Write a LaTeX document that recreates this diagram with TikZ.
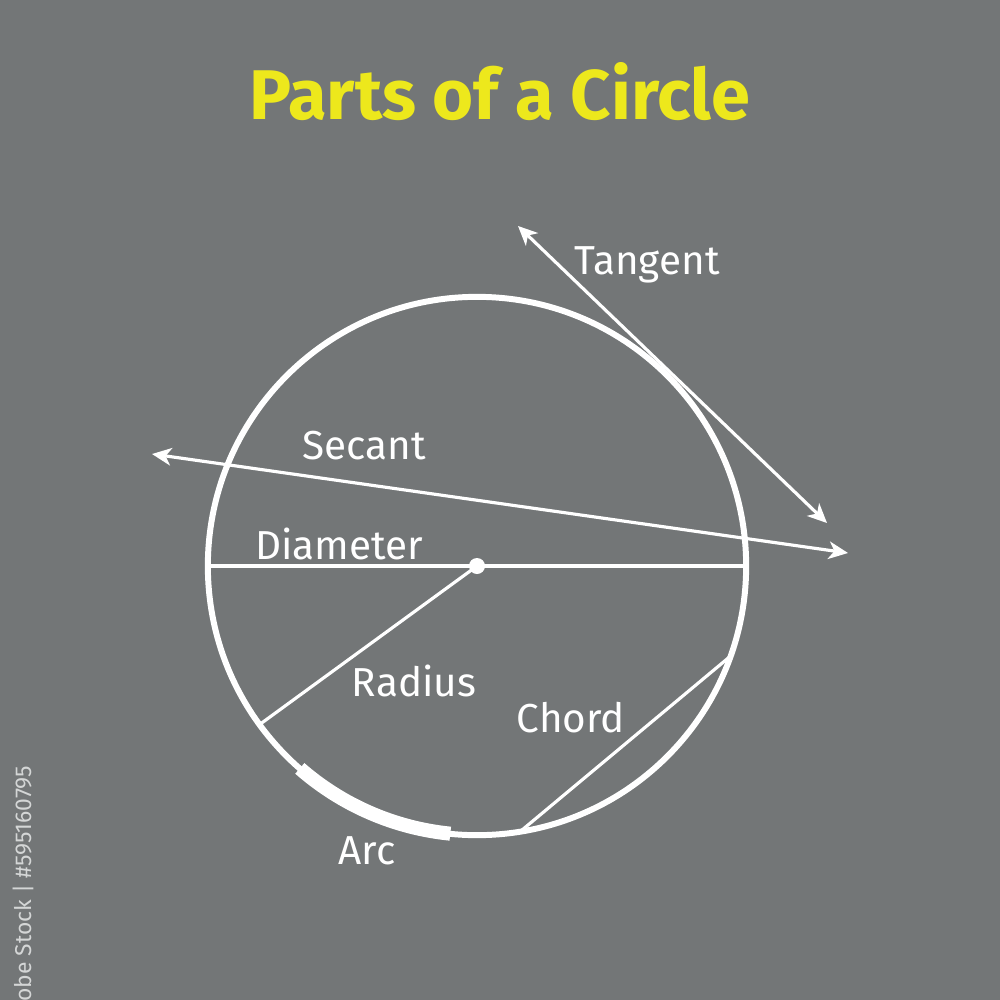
\documentclass[tikz,border=0pt]{standalone}
\usepackage{fontspec}
\setmainfont{Fira Sans}
\usetikzlibrary{arrows.meta,calc}
\definecolor{bg}{HTML}{737677}
\definecolor{ttl}{HTML}{EDE81C}
\definecolor{wm}{HTML}{D4D6D6}
\begin{document}
\begin{tikzpicture}[x=0.01cm,y=-0.01cm,
  thin line/.style={draw=white,line width=0.9pt},
  arrowline/.style={draw=white,line width=0.9pt,{Stealth[length=5.5pt,width=5pt,inset=1.6pt]}-{Stealth[length=5.5pt,width=5pt,inset=1.6pt]}},
  lbl/.style={text=white,font=\fontsize{11.5}{13}\selectfont,inner sep=0pt},
  ]
\fill[bg] (0,0) rectangle (1000,1000);
\useasboundingbox (0,0) rectangle (1000,1000);

\node[text=ttl,font=\fontsize{20}{24}\bfseries\selectfont,inner sep=0pt] (title) at (500,92) {Parts of a Circle};

\coordinate (c) at (477,566);
\def\R{269}
\node[draw=white,line width=1.7pt,circle,minimum size=5.38cm,inner sep=0pt] (circ) at (c) {};

% diameter
\coordinate (dl) at ($(c)+(180:\R)$);
\coordinate (dr) at ($(c)+(0:\R)$);
\draw[thin line] (dl) -- (dr);
% radius
\coordinate (rp) at ($(c)+(143.9:\R)$);
\draw[thin line] (c) -- (rp);
\fill[white] (c) circle[radius=8];
% chord
\coordinate (ch1) at ($(c)+(80.75:\R)$);
\coordinate (ch2) at ($(c)+(19.6:\R)$);
\draw[thin line] (ch1) -- (ch2);
% arc
\draw[white,line width=4pt] ($(c)+(95.7:\R)$) arc[start angle=95.7,end angle=131.2,radius=\R];
% tangent
\coordinate (t1) at (518,226);
\coordinate (t2) at (827,523);
\draw[arrowline] (t1) -- (t2);
% secant
\coordinate (s1) at (152,454);
\coordinate (s2) at (848,553);
\draw[arrowline] (s1) -- (s2);

\node[lbl] (lt) at (647,265) {Tangent};
\node[lbl] (ls) at (364,446) {Secant};
\node[lbl] (ld) at (339,544) {Diameter};
\node[lbl] (lr) at (414,681) {Radius};
\node[lbl] (lc) at (571,718) {Chord};
\node[lbl] (la) at (367,851) {Arc};

\node[text=wm,font=\fontsize{6.5}{7}\selectfont,rotate=90,anchor=east,inner sep=0pt] (wmk) at (23,765) {Adobe Stock | \#595160795};
\end{tikzpicture}
\end{document}
